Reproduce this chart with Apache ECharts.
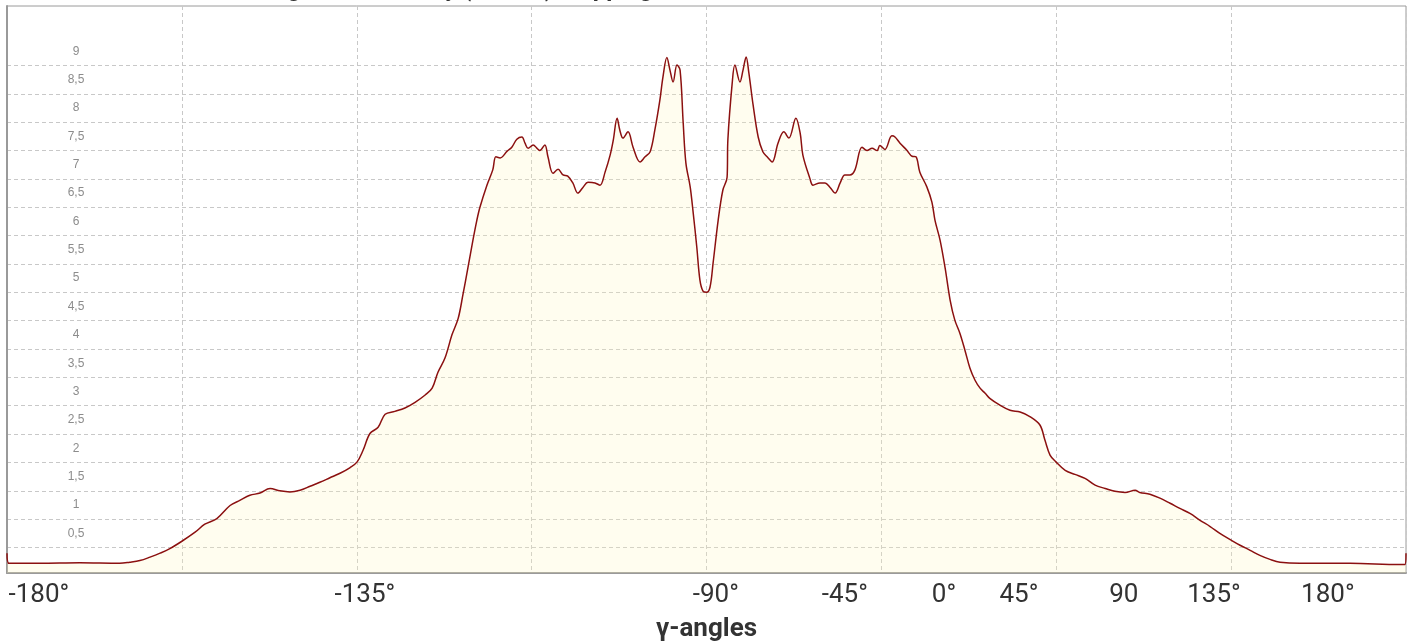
<!DOCTYPE html>
<html>
<head>
<meta charset="utf-8">
<script src="https://cdn.jsdelivr.net/npm/echarts@6/dist/echarts.min.js"></script>
<style>
html,body{margin:0;padding:0;background:#fff;}
#chart{width:1412px;height:642px;}
</style>
</head>
<body>
<div id="chart"></div>
<script>
// angle (deg) of each sampled point
const angles = [
-180.0,-179.5,-171.6,-161.3,-151.0,-148.4,-145.8,-143.2,-140.6,-138.1,
-135.0,-131.6,-129.1,-126.0,-122.6,-120.1,-117.5,-114.9,-112.3,-109.8,
-107.2,-104.6,-102.0,-99.5,-96.9,-94.3,-91.7,-89.9,-88.4,-86.6,
-84.5,-82.7,-80.2,-77.6,-75.0,-72.4,-70.6,-69.1,-67.3,-65.5,
-63.9,-62.7,-61.4,-60.1,-59.1,-58.3,-56.5,-55.0,-54.2,-53.1,
-51.3,-50.1,-48.8,-47.5,-46.7,-45.9,-44.6,-43.6,-42.9,-41.6,
-40.8,-39.5,-38.2,-36.9,-35.7,-34.4,-33.1,-31.8,-30.5,-28.7,
-27.4,-26.1,-24.8,-24.0,-23.0,-22.3,-21.5,-20.2,-18.9,-17.1,
-15.8,-14.5,-13.3,-12.0,-11.2,-10.2,-9.4,-8.6,-7.6,-6.8,
-6.0,-5.3,-4.2,-3.5,-2.5,-1.7,-0.9,0,
0.9,1.7,3.0,4.2,5.3,5.5,6.6,7.3,8.6,9.4,
10.2,10.9,12.0,13.3,14.5,15.6,16.9,18.4,19.9,21.2,
23.0,24.1,24.8,26.6,27.4,29.2,30.5,31.8,33.1,34.4,
35.6,36.9,38.2,40.0,41.3,42.6,43.9,44.6,45.9,47.7,
48.5,49.8,51.5,52.9,53.9,54.9,56.7,58.0,58.8,60.1,
61.4,62.7,63.9,65.2,66.5,67.8,69.1,70.4,71.7,72.9,
75.5,78.1,80.7,83.2,85.8,87.1,88.4,89.9,92.3,94.8,
97.4,100.0,102.6,105.1,107.7,110.3,111.5,114.1,116.7,119.3,
121.8,124.4,127.0,129.6,132.1,135.0,137.3,139.9,142.4,145.0,
147.6,152.7,165.6,178.4,179.7,180.0
];
// intensity at each angle
const intensity = [
0.15,-0.03,-0.03,-0.02,-0.03,-0.01,0.02,0.08,0.15,0.23,
0.36,0.52,0.66,0.76,0.99,1.08,1.17,1.21,1.29,1.25,
1.23,1.26,1.33,1.40,1.48,1.56,1.66,1.76,1.96,2.26,
2.37,2.60,2.65,2.71,2.81,2.94,3.06,3.34,3.59,4.00,
4.29,4.70,5.18,5.67,6.02,6.25,6.64,6.91,7.14,7.12,
7.24,7.31,7.45,7.49,7.38,7.29,7.35,7.29,7.25,7.35,
7.14,6.85,6.92,6.82,6.80,6.68,6.50,6.60,6.69,6.68,
6.64,6.87,7.17,7.43,7.82,7.61,7.47,7.58,7.31,7.05,
7.14,7.23,7.61,8.14,8.55,8.89,8.67,8.46,8.76,8.67,
7.74,7.03,6.61,6.20,5.55,4.97,4.77,4.75,
4.84,5.27,6.02,6.55,6.78,7.44,8.43,8.76,8.46,8.67,
8.90,8.62,8.05,7.49,7.23,7.14,7.05,7.38,7.58,7.47,
7.82,7.56,7.17,6.76,6.64,6.68,6.68,6.60,6.50,6.68,
6.82,6.82,6.91,7.31,7.25,7.29,7.25,7.34,7.27,7.51,
7.49,7.38,7.26,7.15,7.14,6.87,6.61,6.34,6.02,5.67,
5.18,4.61,4.26,4.03,3.73,3.41,3.20,3.06,2.97,2.88,
2.76,2.67,2.64,2.56,2.41,2.14,1.88,1.76,1.61,1.54,
1.47,1.35,1.29,1.24,1.22,1.26,1.22,1.19,1.12,1.03,
0.94,0.85,0.73,0.62,0.50,0.38,0.29,0.20,0.11,0.04,
-0.01,-0.03,-0.03,-0.05,-0.05,0.15
];
// x tick labels and where they sit on the angle axis
const xTickLabels = ['-180°','-135°','-90°','-45°','0°','45°','90','135°','180°'];
const xTickPositions = [-171.8,-87.9,2.4,35.6,61.1,80.4,107.4,130.6,159.9];
// y tick labels and grid line values
const yTickValues = [0.5,1,1.5,2,2.5,3,3.5,4,4.5,5,5.5,6,6.5,7,7.5,8,8.5,9];
const yGridValues = [0.25,0.75,1.25,1.75,2.25,2.75,3.25,3.75,4.25,4.75,5.25,5.75,6.25,6.75,7.25,7.75,8.25,8.75];

const titleText = 'Integrated Intensity (counts) mapping';
const xName = 'γ-angles';

const seriesData = angles.map((a, i) => [a, intensity[i]]);

const chart = echarts.init(document.getElementById('chart'), null, {renderer: 'canvas'});
chart.setOption({
  animation: false,
  backgroundColor: '#fff',
  title: {
    text: titleText,
    left: 241,
    top: -27,
    textStyle: {fontFamily: 'Roboto', fontWeight: 'bold', fontSize: 24, color: '#333'}
  },
  grid: {
    left: 7, right: 6, top: 6, bottom: 69,
    outerBoundsMode: 'none',
    containLabel: false,
    show: true, borderColor: '#9a9a9a', borderWidth: 1, backgroundColor: 'transparent'
  },
  xAxis: {
    type: 'value',
    min: -180, max: 180, interval: 45,
    name: xName,
    nameLocation: 'middle',
    nameGap: 43,
    nameTextStyle: {fontFamily: 'Roboto', fontWeight: 'bold', fontSize: 26, color: '#333'},
    axisLine: {show: true, onZero: false, lineStyle: {color: '#9a9a9a', width: 2}},
    axisTick: {show: false},
    splitLine: {show: true, lineStyle: {color: '#c8c8c8', type: [4, 3], width: 1}},
    axisLabel: {
      customValues: xTickPositions,
      margin: 9,
      fontFamily: "'Liberation Sans Narrow', 'Roboto', sans-serif",
      fontSize: 26,
      color: '#333',
      formatter: function (v) {
        let best = 0, d = 1e9;
        xTickPositions.forEach((p, i) => { if (Math.abs(p - v) < d) { d = Math.abs(p - v); best = i; } });
        return xTickLabels[best];
      }
    }
  },
  yAxis: {
    type: 'value',
    min: -0.2, max: 9.8,
    axisLine: {show: true, onZero: false, lineStyle: {color: '#9a9a9a', width: 2}},
    axisTick: {show: false, customValues: yGridValues},
    splitLine: {show: true, lineStyle: {color: '#c8c8c8', type: [4, 3], width: 1}},
    axisLabel: {
      customValues: yTickValues,
      inside: true,
      margin: 69,
      align: 'center',
      fontFamily: "'Liberation Sans', Arial, sans-serif",
      fontSize: 12,
      color: '#8c8c8c',
      formatter: function (v) { return String(v).replace('.', ','); }
    }
  },
  series: [{
    type: 'line',
    data: seriesData,
    showSymbol: false,
    smooth: 0.35,
    lineStyle: {color: '#8b1010', width: 1.5},
    areaStyle: {color: 'rgba(255,246,190,0.35)', origin: 'start'}
  }]
});
</script>
</body>
</html>
